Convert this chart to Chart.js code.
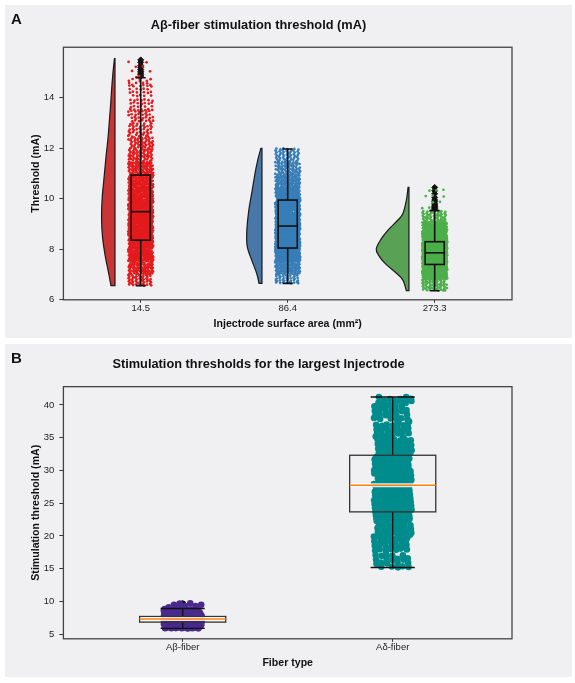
<!DOCTYPE html>
<html>
<head>
<meta charset="utf-8">
<script src="https://cdn.jsdelivr.net/npm/chart.js@4.4.0/dist/chart.umd.min.js"></script>
<style>
  body { margin:0; background:#fff; width:575px; height:683px; position:relative; overflow:hidden; font-family:"Liberation Sans", Arial, sans-serif; }
  .panel { position:absolute; left:5px; width:567px; height:333px; background:#f0f0f2; }
  #panelA { top:5px; }
  #panelB { top:344px; }
  .tag { position:absolute; left:6px; top:6px; font-weight:bold; font-size:15px; line-height:1; color:#111; }
  canvas { position:absolute; left:0; top:0; }
</style>
</head>
<body>
<div class="panel" id="panelA"><canvas id="chartA" width="567" height="333"></canvas><div class="tag">A</div></div>
<div class="panel" id="panelB"><canvas id="chartB" width="567" height="333"></canvas><div class="tag">B</div></div>
<script>
// ---------- panel A : Abeta threshold per injectrode size
const areaLabels = ['14.5', '86.4', '273.3'];
const yTicksA = [6, 8, 10, 12, 14];

// how many points fall between each pair of edges (mA)
const redEdges   = [6.56, 7, 7.5, 8, 8.5, 9, 9.5, 10, 10.5, 11, 11.5, 12, 12.5, 13, 13.5, 14, 14.5, 14.82, 15.55];
const redCounts  = [46, 78, 110, 127, 146, 146, 120, 107, 98, 75, 58, 49, 39, 32, 26, 21, 14, 7];
const blueEdges  = [6.65, 7, 7.5, 8, 8.5, 9, 9.5, 10, 10.5, 11, 11.5, 12.0];
const blueCounts = [36, 91, 175, 195, 182, 156, 153, 114, 88, 62, 49];
const greenEdges  = [6.36, 6.8, 7.1, 7.4, 7.6, 7.86, 8.1, 8.3, 8.7, 9.1, 9.53, 10.47];
const greenCounts = [58, 98, 169, 146, 179, 175, 150, 169, 104, 52, 10];

const redOutliers   = [14.86, 14.92, 14.98, 15.05, 15.12, 15.2, 15.28, 15.4, 15.5];
const greenOutliers = [9.58, 9.62, 9.66, 9.7, 9.75, 9.8, 9.88, 9.95, 10.05, 10.2, 10.32, 10.45];

const q1A  = [8.36, 8.05, 7.40];
const medA = [9.49, 8.92, 7.86];
const q3A  = [10.94, 9.95, 8.30];
const loA  = [6.56, 6.65, 6.36];
const hiA  = [14.79, 11.97, 9.53];

// half violins (density at a few heights)
const redViolinY   = [6.56, 7.11, 7.77, 8.5, 9.22, 10.0, 10.8, 11.73, 12.4, 13.05, 13.7, 14.37, 15.0, 15.55];
const redViolinD   = [0.11, 0.18, 0.27, 0.34, 0.365, 0.35, 0.30, 0.24, 0.19, 0.155, 0.12, 0.09, 0.055, 0.015];
const blueViolinY  = [6.65, 7.05, 7.57, 8.1, 8.63, 9.15, 9.68, 10.3, 11.0, 11.5, 12.0];
const blueViolinD  = [0.08, 0.145, 0.28, 0.40, 0.415, 0.39, 0.345, 0.27, 0.19, 0.12, 0.03];
const greenViolinY = [6.36, 6.78, 7.05, 7.44, 7.75, 8.02, 8.4, 8.76, 9.16, 9.42, 9.95, 10.45];
const greenViolinD = [0.07, 0.165, 0.34, 0.65, 0.82, 0.89, 0.76, 0.57, 0.30, 0.165, 0.07, 0.025];

// ---------- panel B : largest injectrode, both fibre types
const fiberLabels = ['Aβ-fiber', 'Aδ-fiber'];
const yTicksB = [5, 10, 15, 20, 25, 30, 35, 40];
const abEdges  = [5.86, 6.3, 6.6, 6.83, 7.05, 7.29, 7.5, 7.69, 8.0, 8.4, 8.91, 9.72];
const abCounts = [35, 45, 45, 60, 65, 65, 60, 60, 45, 20, 8];
const adEdges  = [15.17, 17.5, 20, 22, 23.67, 25.7, 27.74, 30, 32.32, 35, 37.5, 40, 41.22];
const adCounts = [21, 28, 28, 28, 52, 52, 52, 52, 38, 28, 25, 14];
const abOutliers = [8.98, 9.05, 9.12, 9.2, 9.28, 9.36, 9.45, 9.55, 9.62];

const q1B  = [6.83, 23.67];
const medB = [7.29, 27.74];
const q3B  = [7.69, 32.32];
const loB  = [5.86, 15.17];
const hiB  = [8.91, 41.22];

// ---------- helpers
const FONT = '"Liberation Sans", Arial, sans-serif';
const tickFont = { family: FONT, size: 9.5 };
const axisFont = { family: FONT, size: 10.6, weight: 'bold' };
const titleFont = { family: FONT, size: 12.8, weight: 'bold' };

// spread the binned values over a strip (low-discrepancy placement, no randomness)
function strip(edges, counts, pos, jitter) {
  const pts = [];
  let k = 0;
  counts.forEach((n, b) => {
    const lo = edges[b], hi = edges[b + 1];
    for (let i = 0; i < n; i++, k++) {
      const u = (0.5 + k * 0.7548776662466927) % 1;
      const v = (0.5 + k * 0.5698402909980532) % 1;
      pts.push({ x: pos + (2 * v - 1) * jitter, y: lo + u * (hi - lo) });
    }
  });
  return pts;
}

function violin(ctx, xs, ys, pos, ylev, dens, off, wScale, fill) {
  const x0 = xs.getPixelForValue(pos + off);
  const p = ylev.map((y, i) => [xs.getPixelForValue(pos + off - dens[i] * wScale), ys.getPixelForValue(y)]);
  ctx.beginPath();
  ctx.moveTo(x0, p[0][1]);
  ctx.lineTo(p[0][0], p[0][1]);
  for (let i = 0; i < p.length - 1; i++) {
    const a = p[Math.max(i - 1, 0)], b = p[i], c = p[i + 1], d = p[Math.min(i + 2, p.length - 1)];
    ctx.bezierCurveTo(b[0] + (c[0] - a[0]) / 6, b[1] + (c[1] - a[1]) / 6,
                      c[0] - (d[0] - b[0]) / 6, c[1] - (d[1] - b[1]) / 6, c[0], c[1]);
  }
  ctx.lineTo(x0, p[p.length - 1][1]);
  ctx.closePath();
  ctx.fillStyle = fill;
  ctx.fill();
  ctx.strokeStyle = '#1a1a1a';
  ctx.lineWidth = 1.2;
  ctx.stroke();
}

function boxes(ctx, xs, ys, q1, med, q3, lo, hi, hw, cw, style) {
  q1.forEach((_, i) => {
    const l = xs.getPixelForValue(i - hw), r = xs.getPixelForValue(i + hw);
    const c = xs.getPixelForValue(i);
    const cl = xs.getPixelForValue(i - cw), cr = xs.getPixelForValue(i + cw);
    const y1 = ys.getPixelForValue(q1[i]), y3 = ys.getPixelForValue(q3[i]);
    const ym = ys.getPixelForValue(med[i]);
    const yl = ys.getPixelForValue(lo[i]), yh = ys.getPixelForValue(hi[i]);
    ctx.lineWidth = style.lw;
    ctx.strokeStyle = style.whisker;
    ctx.beginPath();
    ctx.moveTo(c, y3); ctx.lineTo(c, yh);
    ctx.moveTo(c, y1); ctx.lineTo(c, yl);
    ctx.moveTo(cl, yh); ctx.lineTo(cr, yh);
    ctx.moveTo(cl, yl); ctx.lineTo(cr, yl);
    ctx.stroke();
    ctx.strokeStyle = style.box;
    ctx.strokeRect(l, y3, r - l, y1 - y3);
    if (style.halo) {
      ctx.strokeStyle = 'rgba(255,255,255,0.85)';
      ctx.lineWidth = 4;
      ctx.beginPath(); ctx.moveTo(l + 1, ym); ctx.lineTo(r - 1, ym); ctx.stroke();
    }
    ctx.strokeStyle = style.median;
    ctx.lineWidth = style.mlw;
    ctx.beginPath(); ctx.moveTo(l, ym); ctx.lineTo(r, ym); ctx.stroke();
  });
}

const framePlugin = {
  id: 'frame',
  afterDraw(chart) {
    const { ctx, chartArea: a } = chart;
    ctx.save();
    ctx.strokeStyle = '#444';
    ctx.lineWidth = 1.3;
    ctx.strokeRect(a.left, a.top, a.right - a.left, a.bottom - a.top);
    ctx.restore();
  }
};

function xAxis(labels, min, max, title, pb) {
  return {
    type: 'linear', min: min, max: max,
    afterBuildTicks: s => { s.ticks = labels.map((_, i) => ({ value: i })); },
    ticks: { callback: v => labels[v], font: tickFont, color: '#222', padding: -0.6, maxRotation: 0, autoSkip: false },
    grid: { drawOnChartArea: false, tickLength: 3, tickColor: '#333' },
    border: { display: false },
    title: { display: true, text: title, font: axisFont, color: '#111', padding: { top: 0, bottom: pb } },
    afterFit: s => { s.height = 38.2; }
  };
}

function yAxis(ticks, min, max, title) {
  return {
    type: 'linear', min: min, max: max,
    afterBuildTicks: s => { s.ticks = ticks.map(v => ({ value: v })); },
    ticks: { font: tickFont, color: '#222', padding: 5 },
    grid: { drawOnChartArea: false, tickLength: 4, tickColor: '#333' },
    border: { display: false },
    title: { display: true, text: title, font: axisFont, color: '#111', padding: { top: 24.4, bottom: 0 } },
    afterFit: s => { s.width = 58.4; }
  };
}

// ---------- chart A
const rainPlugin = {
  id: 'rain',
  beforeDatasetsDraw(chart) {
    const { ctx, scales: { x, y } } = chart;
    ctx.save();
    violin(ctx, x, y, 0, redViolinY, redViolinD, -0.175, 0.25, '#cb3434');
    violin(ctx, x, y, 1, blueViolinY, blueViolinD, -0.175, 0.25, '#4878a8');
    violin(ctx, x, y, 2, greenViolinY, greenViolinD, -0.175, 0.25, '#59a155');
    ctx.restore();
  },
  afterDatasetsDraw(chart) {
    const { ctx, scales: { x, y } } = chart;
    ctx.save();
    boxes(ctx, x, y, q1A, medA, q3A, loA, hiA, 0.065, 0.034,
      { lw: 1.6, whisker: '#111', box: '#111', median: '#111', mlw: 1.6 });
    ctx.restore();
  }
};

new Chart(document.getElementById('chartA'), {
  type: 'scatter',
  data: {
    datasets: [
      { data: strip(redEdges, redCounts, 0, 0.085), backgroundColor: '#e41a1c', pointRadius: 1.35, borderWidth: 0 },
      { data: strip(blueEdges, blueCounts, 1, 0.085), backgroundColor: '#377eb8', pointRadius: 1.35, borderWidth: 0 },
      { data: strip(greenEdges, greenCounts, 2, 0.085), backgroundColor: '#4daf4a', pointRadius: 1.35, borderWidth: 0 },
      { data: redOutliers.map(v => ({ x: 0, y: v })).concat(greenOutliers.map(v => ({ x: 2, y: v }))),
        backgroundColor: '#111', borderColor: '#111', borderWidth: 1, pointStyle: 'rectRot', pointRadius: 3 }
    ]
  },
  options: {
    responsive: false, animation: false, events: [],
    layout: { padding: { left: 0, right: 60, top: 0, bottom: 0 } },
    plugins: {
      legend: { display: false }, tooltip: { enabled: false },
      title: { display: true, text: 'Aβ-fiber stimulation threshold (mA)', font: titleFont, color: '#111',
               padding: { top: 13.0, bottom: 13.9 } }
    },
    scales: {
      x: xAxis(areaLabels, -0.526, 2.526, 'Injectrode surface area (mm²)', 7.6),
      y: yAxis(yTicksA, 6, 16, 'Threshold (mA)')
    }
  },
  plugins: [rainPlugin, framePlugin]
});

// ---------- chart B
const boxPluginB = {
  id: 'boxB',
  afterDatasetsDraw(chart) {
    const { ctx, scales: { x, y } } = chart;
    ctx.save();
    boxes(ctx, x, y, q1B, medB, q3B, loB, hiB, 0.205, 0.105,
      { lw: 1.3, whisker: '#111', box: '#333', median: '#ff7f0e', mlw: 1.5, halo: true });
    ctx.restore();
  }
};

new Chart(document.getElementById('chartB'), {
  type: 'scatter',
  data: {
    datasets: [
      { data: strip(abEdges, abCounts, 0, 0.09), backgroundColor: '#4a2a8e', pointRadius: 3.3, borderWidth: 0 },
      { data: strip(adEdges, adCounts, 1, 0.09), backgroundColor: '#008c8c', pointRadius: 3.3, borderWidth: 0 },
      { data: abOutliers.map(v => ({ x: 0, y: v })), backgroundColor: '#111', borderColor: '#111', pointRadius: 3, borderWidth: 1 }
    ]
  },
  options: {
    responsive: false, animation: false, events: [],
    layout: { padding: { left: 0, right: 60, top: 0, bottom: 0 } },
    plugins: {
      legend: { display: false }, tooltip: { enabled: false },
      title: { display: true, text: 'Stimulation thresholds for the largest Injectrode', font: titleFont, color: '#111',
               padding: { top: 12.6, bottom: 14.7 } }
    },
    scales: {
      x: xAxis(fiberLabels, -0.568, 1.568, 'Fiber type', 7.9),
      y: yAxis(yTicksB, 4.28, 42.8, 'Stimulation threshold (mA)')
    }
  },
  plugins: [boxPluginB, framePlugin]
});
</script>
</body>
</html>
